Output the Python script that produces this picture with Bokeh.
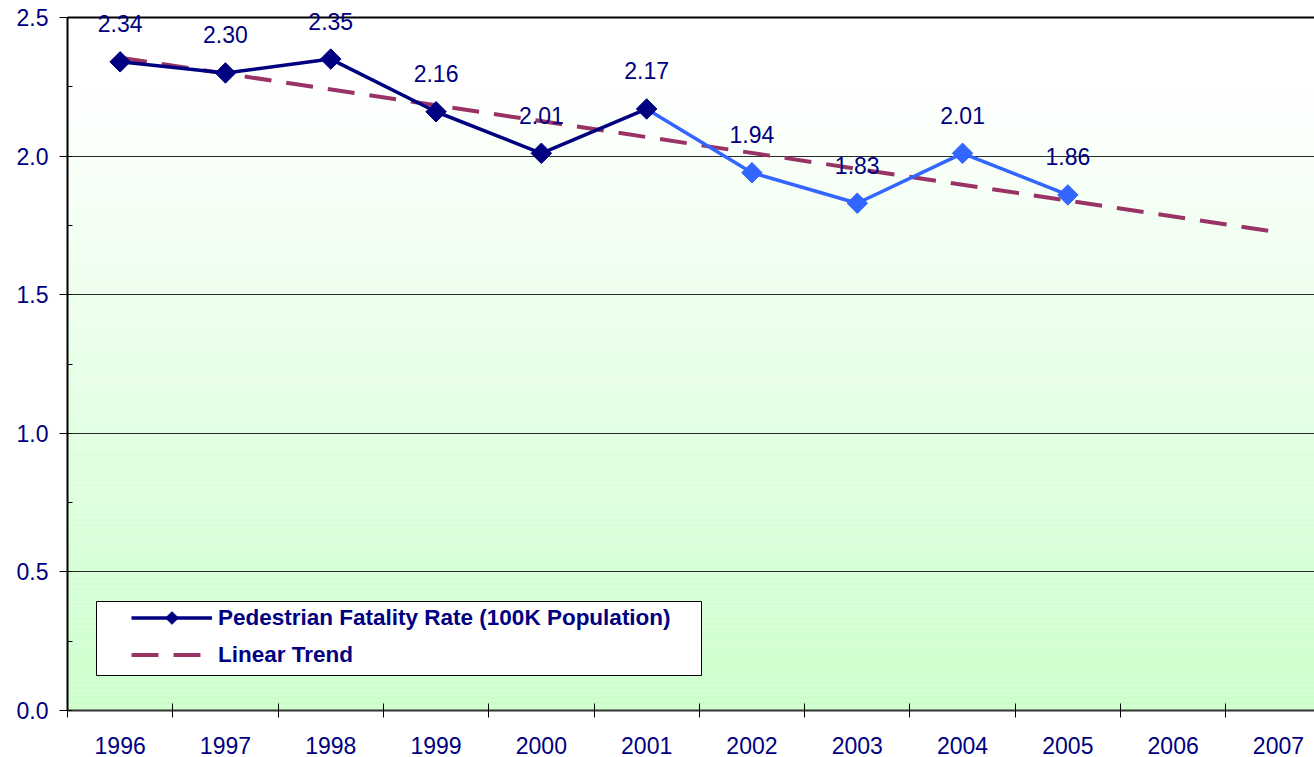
import numpy as np
from bokeh.plotting import figure
from bokeh.models import (FixedTicker, Legend, LegendItem, BoxAnnotation,
                          ColumnDataSource, Range1d, Grid, LabelSet)
from bokeh.embed import file_html
from bokeh.resources import INLINE
from bokeh.core.properties import value

# ---------------- data ----------------
years = ["1996", "1997", "1998", "1999", "2000", "2001",
         "2002", "2003", "2004", "2005", "2006", "2007"]
rate_years = ["1996", "1997", "1998", "1999", "2000", "2001",
              "2002", "2003", "2004", "2005"]
rates = [2.34, 2.30, 2.35, 2.16, 2.01, 2.17, 1.94, 1.83, 2.01, 1.86]
rate_labels = ["2.34", "2.30", "2.35", "2.16", "2.01", "2.17",
               "1.94", "1.83", "2.01", "1.86"]
trend_years = ["1996", "2007"]
trend_values = [2.355, 1.725]
y_ticks = [0.0, 0.5, 1.0, 1.5, 2.0, 2.5]
y_tick_labels = ["0.0", "0.5", "1.0", "1.5", "2.0", "2.5"]
legend_labels = ["Pedestrian Fatality Rate (100K Population)", "Linear Trend"]

# ---------------- styling constants ----------------
NAVY = "#000080"
BLUE = "#3366FF"
TREND = "#993366"
FONT = "Liberation Sans"

W, H = 1314, 757
LEFT, RIGHT, TOP, BOTTOM = 67, 0, 8, 47
EXTRA_TOP = 9  # px of frame above the 2.5 line, so top labels are not clipped
Y_MAX = y_ticks[-1]
frame_w = W - LEFT - RIGHT
px_per_cat = 105.3
x_end = -0.5 + frame_w / px_per_cat
frame_h = H - TOP - BOTTOM
ppu = (frame_h - EXTRA_TOP) / Y_MAX
y_end = Y_MAX + EXTRA_TOP / ppu

xi = {y: i for i, y in enumerate(years)}
rx = [xi[y] for y in rate_years]
tx = [xi[y] for y in trend_years]

p = figure(width=W, height=H, output_backend="svg", toolbar_location=None,
           x_range=Range1d(-0.5, x_end), y_range=Range1d(0, y_end),
           min_border_left=LEFT, min_border_right=RIGHT,
           min_border_top=TOP, min_border_bottom=BOTTOM)
p.outline_line_color = None
p.background_fill_color = "white"
p.border_fill_color = "white"

# gradient background: white (top) -> #CCFFCC (bottom)
n = 140
edges = np.linspace(0, Y_MAX, n + 1)
cols = []
for i in range(n):
    t = (edges[i] + edges[i + 1]) / 2 / Y_MAX  # 0 bottom, 1 top
    t = min(1.0, t / 0.92)
    r = int(round(204 + (255 - 204) * t))
    cols.append("#%02x%02x%02x" % (r, 255, r))
p.quad(left=-0.5, right=x_end, bottom=edges[:-1], top=edges[1:],
       fill_color=cols, line_color=None, level="image")

# grid
p.xgrid.visible = False
p.ygrid.ticker = FixedTicker(ticks=[v for v in y_ticks if 0 < v < Y_MAX])
p.ygrid.grid_line_color = "#2a2a2a"
p.ygrid.grid_line_width = 1
top_grid = Grid(dimension=1, ticker=FixedTicker(ticks=[Y_MAX]),
                grid_line_color="black", grid_line_width=2)
p.add_layout(top_grid)

# trend line
trend = p.line(tx, trend_values, line_color=TREND, line_width=4,
               line_dash="27 15")

# series lines
l1 = p.line(rx[:6], rates[:6], line_color=NAVY, line_width=3.5)
l2 = p.line(rx[5:], rates[5:], line_color=BLUE, line_width=3.5)
s1 = p.scatter(rx[:6], rates[:6], marker="square", angle=np.pi / 4, size=14.5,
               fill_color=NAVY, line_color=NAVY)
s2 = p.scatter(rx[6:], rates[6:], marker="square", angle=np.pi / 4, size=14.5,
               fill_color=BLUE, line_color=BLUE)

# data labels
src = ColumnDataSource(dict(x=rx, y=rates, t=rate_labels))
labels = LabelSet(x="x", y="y", text="t", source=src, y_offset=38,
                  text_align="center", text_baseline="middle",
                  text_font=value(FONT), text_font_size="23px",
                  text_color=NAVY)
p.add_layout(labels)

# axes
xa = p.xaxis[0]
xa.ticker = FixedTicker(ticks=list(range(len(years))),
                        minor_ticks=[i - 0.5 for i in range(len(years) + 1)])
xa.major_label_overrides = {i: y for i, y in enumerate(years)}
xa.major_tick_in = 0
xa.major_tick_out = 0
xa.minor_tick_in = 7
xa.minor_tick_out = 7
xa.minor_tick_line_color = "black"
xa.axis_line_color = "#333333"
xa.axis_line_width = 2
xa.major_label_standoff = 19
xa.major_label_text_font = FONT
xa.major_label_text_font_size = "23px"
xa.major_label_text_color = NAVY

ya = p.yaxis[0]
ya.bounds = (0, Y_MAX)
ya.ticker = FixedTicker(ticks=y_ticks,
                        minor_ticks=[0.25 * i for i in range(11)])
ya.major_label_overrides = {v: s for v, s in zip(y_ticks, y_tick_labels)}
ya.major_tick_in = 0
ya.major_tick_out = 8
ya.major_tick_line_color = "black"
ya.minor_tick_in = 5
ya.minor_tick_out = 0
ya.minor_tick_line_color = "black"
ya.axis_line_color = "black"
ya.axis_line_width = 2
ya.major_label_standoff = 11
ya.major_label_text_font = FONT
ya.major_label_text_font_size = "23px"
ya.major_label_text_color = NAVY

# legend box (white with thin border)
box = BoxAnnotation(left=-0.5 + 29 / px_per_cat, right=-0.5 + 634 / px_per_cat,
                    bottom=35 / ppu, top=109 / ppu,
                    fill_color="white", fill_alpha=1.0,
                    line_color="black", line_width=1, line_alpha=1.0)
p.add_layout(box)

legend = Legend(items=[LegendItem(label=legend_labels[0], renderers=[l1]),
                       LegendItem(label=legend_labels[1], renderers=[trend])],
                location=(64, 40), padding=0, margin=0,
                glyph_width=81, glyph_height=31, spacing=6, label_standoff=6,
                label_text_font=FONT, label_text_font_style="bold",
                label_text_font_size="22.5px", label_text_color=NAVY,
                border_line_alpha=0, background_fill_alpha=0)
p.add_layout(legend)

# diamond swatch on the legend's first entry (centre of its glyph area)
sw_x = -0.5 + (64 + 81 / 2) / px_per_cat
sw_y = (40 + 31 + 6 + 31 / 2) / ppu
p.scatter([sw_x], [sw_y], marker="square", angle=np.pi / 4, size=9,
          fill_color=NAVY, line_color=NAVY, level="overlay")

open("out.html", "w").write(file_html(p, INLINE))
